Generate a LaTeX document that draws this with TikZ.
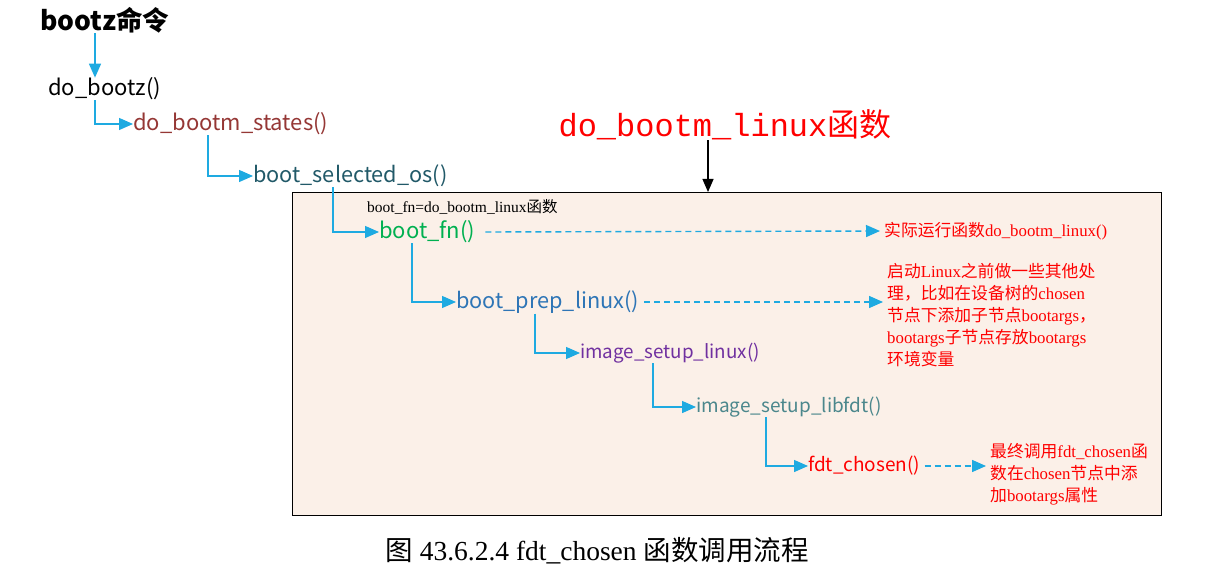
\documentclass[tikz,border=0pt]{standalone}
\usepackage{fontspec}
\setmainfont{Liberation Serif}
\newfontfamily\cjk{Noto Sans CJK SC}
\newfontfamily\fnfont{Noto Sans CJK SC}
\newfontfamily\codefont{Liberation Mono}
\usetikzlibrary{arrows.meta}
\definecolor{linkcyan}{RGB}{30,170,225}
\definecolor{boxfill}{RGB}{251,240,232}
\definecolor{statesred}{RGB}{149,55,53}
\definecolor{selosteal}{RGB}{33,89,104}
\definecolor{fngreen}{RGB}{0,176,80}
\definecolor{prepblue}{RGB}{46,117,182}
\definecolor{setuppurple}{RGB}{112,48,160}
\definecolor{libfdtteal}{RGB}{75,135,140}
\newcommand\zh[1]{{\cjk #1}}

\begin{document}
\begin{tikzpicture}[x=1pt,y=-1pt,
  fn/.style={anchor=west,inner sep=0pt,font=\fnfont\fontsize{22}{26}\selectfont},
  note/.style={anchor=west,inner sep=0pt,text=red,align=left,font=\fontsize{16.8}{22}\selectfont},
  link/.style={draw=linkcyan,line width=1.4pt,-{Triangle[length=14pt,width=12pt]}},
  hint/.style={link,dash pattern=on 6pt off 4pt,line width=1.4pt,shorten >=4pt}]
\useasboundingbox (0,0) rectangle (1221,569);
% frame of do_bootm_linux
\node[draw=black,fill=boxfill,line width=0.8pt,minimum width=869pt,minimum height=323pt,
  anchor=north west,inner sep=0pt] (frame) at (292,192) {};
\node[anchor=west,inner sep=0pt,font=\cjk\bfseries\fontsize{26.5}{30}\selectfont] (cmd) at (40,20) {bootz命令};
\node[inner sep=0pt,text=red] (title) at (725,125)
  {\codefont\fontsize{32}{36}\selectfont do\_bootm\_linux\cjk 函数};
\node[anchor=west,inner sep=0pt,font=\fontsize{15.5}{18}\selectfont] (fnlabel) at (367,207)
  {boot\_fn=do\_bootm\_linux\zh{函数}};
% call chain
\node[fn] (dobootz) at (48,89) {do\_bootz()};
\node[fn,text=statesred] (states) at (133,124) {do\_bootm\_states()};
\node[fn,text=selosteal,font=\fnfont\fontsize{21.7}{26}\selectfont] (selos) at (253,176) {boot\_selected\_os()};
\node[fn,text=fngreen] (bootfn) at (379,232) {boot\_fn()};
\node[fn,text=prepblue,font=\fnfont\fontsize{21.7}{26}\selectfont] (prep) at (456,302) {boot\_prep\_linux()};
\node[fn,text=setuppurple,font=\fnfont\fontsize{18.8}{23}\selectfont] (setup) at (580,353) {image\_setup\_linux()};
\node[fn,text=libfdtteal,font=\fnfont\fontsize{19}{23}\selectfont] (libfdt) at (696,407) {image\_setup\_libfdt()};
\node[fn,text=red,font=\fnfont\fontsize{19}{23}\selectfont] (chosen) at (808,466) {fdt\_chosen()};
% notes
\node[note] (noteA) at (884,231) {\zh{实际运行函数}do\_bootm\_linux()};
\node[note] (noteB) at (887,315) {\zh{启动}Linux\zh{之前做一些其他处}\\
  \zh{理，比如在设备树的}chosen\\
  \zh{节点下添加子节点}bootargs\zh{，}\\
  bootargs\zh{子节点存放}bootargs\\
  \zh{环境变量}};
\node[note] (noteC) at (990,474) {\zh{最终调用}fdt\_chosen\zh{函}\\
  \zh{数在}chosen\zh{节点中添}\\
  \zh{加}bootargs\zh{属性}};
% connectors
\draw[link] (cmd.south west) ++(55,0) coordinate (c0) -- (c0 |- dobootz.north);
\draw[link] (dobootz.south west) ++(47,0) |- (states.west);
\draw[link] (states.south west) ++(75,0) |- (selos.west);
\draw[link] (selos.south west) ++(80,0) |- (bootfn.west);
\draw[link] (bootfn.south west) ++(33,0) |- (prep.west);
\draw[link] (prep.south west) ++(79,0) |- (setup.west);
\draw[link] (setup.south west) ++(73,0) |- (libfdt.west);
\draw[link] (libfdt.south west) ++(70,0) |- (chosen.west);
\draw[-{Triangle[length=13pt,width=11pt]},line width=1.2pt] (title.south) ++(-17,0) coordinate (t0) -- (t0 |- frame.north);
\draw[hint] (bootfn.east) ++(10,0) -- (noteA.west);
\draw[hint] (prep.east) ++(5,0) -- (prep.east -| noteB.west);
\draw[hint] (chosen.east) ++(4,0) -- (chosen.east -| noteC.west);
% caption
\node[font=\fontsize{27.5}{32}\selectfont] (caption) at (597,551)
  {\zh{图} 43.6.2.4 fdt\_chosen \zh{函数调用流程}};
\end{tikzpicture}
\end{document}
